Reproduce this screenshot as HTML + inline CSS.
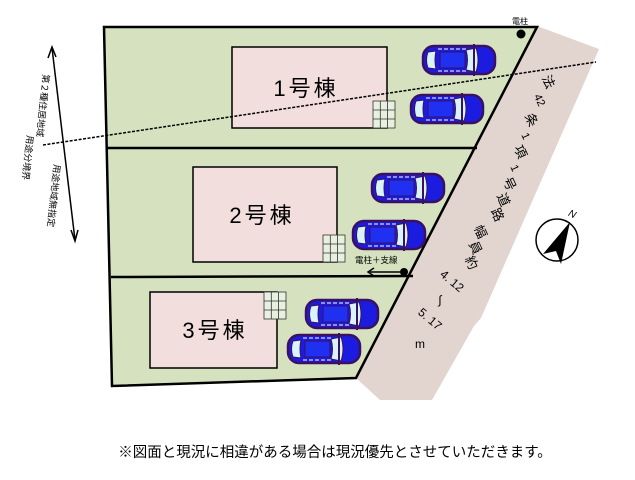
<!DOCTYPE html>
<html><head><meta charset="utf-8"><style>
body{margin:0;background:#fff}
svg{display:block}
text{font-family:"Liberation Sans","Noto Sans CJK JP",sans-serif}
</style></head><body>
<svg width="635" height="480" viewBox="0 0 635 480" xmlns="http://www.w3.org/2000/svg">
<defs>
<g id="car">
<rect x="1" y="2" width="72" height="28" rx="11" fill="#1c1ce0" stroke="#3a1060" stroke-width="2.5"/>
<path d="M6 8 Q3 16 6 24 L14 25 Q12 16 14 7 Z" fill="#d8f4f8" stroke="#3a1060" stroke-width="1"/>
<path d="M44 6 L54 4 Q58 16 54 28 L44 26 Q47 16 44 6Z" fill="#d8f4f8" stroke="#3a1060" stroke-width="1"/>
<rect x="18" y="8" width="25" height="16" fill="#2030f0" stroke="#3a1060" stroke-width="1"/>
<line x1="16" y1="5" x2="44" y2="5" stroke="#fff" stroke-width="1" stroke-dasharray="4 2"/>
<line x1="16" y1="27" x2="44" y2="27" stroke="#fff" stroke-width="1" stroke-dasharray="4 2"/>
<path d="M52 0 L52 32" stroke="#3a1060" stroke-width="2"/>
</g>
<g id="grid" stroke="#333" stroke-width="0.8" fill="#e8f0e0">
<rect x="0" y="0" width="22" height="27"/>
<line x1="7.3" y1="0" x2="7.3" y2="27"/><line x1="14.6" y1="0" x2="14.6" y2="27"/>
<line x1="0" y1="9" x2="22" y2="9"/><line x1="0" y1="18" x2="22" y2="18"/>
</g>
</defs>
<polygon points="537,26 599,49 481,318 474,326 432,400 380,400 356,378" fill="#e2d4cf"/>
<polygon points="104,27 537,27 356,378 112,386" fill="#d6e2bf" stroke="#000" stroke-width="2.5"/>
<line x1="107" y1="148" x2="477" y2="148" stroke="#000" stroke-width="2.5"/>
<line x1="111" y1="277" x2="413" y2="276" stroke="#000" stroke-width="2.5"/>
<rect x="232" y="47" width="155" height="81" fill="#f2dedc" stroke="#000" stroke-width="1.5"/>
<use href="#grid" x="373" y="101"/>
<rect x="193" y="167" width="144" height="95" fill="#f2dedc" stroke="#000" stroke-width="1.5"/>
<use href="#grid" x="323" y="235"/>
<rect x="150" y="292" width="127" height="76" fill="#f2dedc" stroke="#000" stroke-width="1.5"/>
<use href="#grid" x="264" y="292"/>
<text x="306" y="96" font-size="22" letter-spacing="3" text-anchor="middle">1号棟</text>
<text x="262" y="223" font-size="22" letter-spacing="3" text-anchor="middle">2号棟</text>
<text x="215" y="338" font-size="22" letter-spacing="3" text-anchor="middle">3号棟</text>
<use href="#car" x="422" y="44"/>
<use href="#car" x="410" y="93"/>
<use href="#car" x="371" y="172"/>
<use href="#car" x="352" y="219"/>
<use href="#car" x="305" y="298"/>
<use href="#car" x="287" y="333"/>
<circle cx="521" cy="34" r="4.5" fill="#000"/>
<text x="512" y="24" font-size="8">電柱</text>
<circle cx="404" cy="272" r="4" fill="#000"/>
<line x1="370" y1="272" x2="400" y2="272" stroke="#000" stroke-width="1.5"/>
<path d="M374 268 L368 272 L374 276" fill="none" stroke="#000" stroke-width="1.5"/>
<text x="355" y="263" font-size="8.5">電柱＋支線</text>
<line x1="43" y1="145" x2="596" y2="62" stroke="#000" stroke-width="1.5" stroke-dasharray="3 1.5"/>
<line x1="52" y1="48" x2="75" y2="240" stroke="#000" stroke-width="1.5"/>
<path d="M48 58 L52 47 L56 57" fill="none" stroke="#000" stroke-width="1.5"/>
<path d="M71 230 L75 241 L78 230" fill="none" stroke="#000" stroke-width="1.5"/>
<text font-size="9" transform="translate(43,74) rotate(96)">第２種住居地域</text>
<text font-size="9" transform="translate(54,164) rotate(96)">用途地域無指定</text>
<text font-size="9" transform="translate(27,135) rotate(96)">用途分境界</text>
<g font-size="13" text-anchor="middle">
<text x="548" y="86" transform="rotate(65 548 82)">法</text>
<text x="540" y="104" font-size="11" transform="rotate(65 540 100)">42</text>
<text x="531" y="124" transform="rotate(65 531 120)">条</text>
<text x="526" y="140" font-size="11" transform="rotate(65 526 136)">1</text>
<text x="520" y="156" transform="rotate(65 520 152)">項</text>
<text x="515" y="172" font-size="11" transform="rotate(65 515 168)">1</text>
<text x="509" y="188" transform="rotate(65 509 184)">号</text>
<text x="503" y="204" transform="rotate(65 503 200)">道</text>
<text x="497" y="219" transform="rotate(65 497 215)">路</text>
<text x="480" y="236" transform="rotate(65 480 232)">幅</text>
<text x="475" y="252" transform="rotate(65 475 248)">員</text>
<text x="471" y="267" transform="rotate(65 471 263)">約</text>
<text x="452" y="285" font-size="12" transform="rotate(40 452 281)">4. 12</text>
<text x="440" y="304" font-size="12">∫</text>
<text x="430" y="323" font-size="12" transform="rotate(40 430 319)">5. 17</text>
<text x="420" y="348" font-size="12">m</text>
</g>
<circle cx="557" cy="240" r="21" fill="none" stroke="#000" stroke-width="1.5"/>
<polygon points="570,222 543,254 556,251 561,264" fill="#000"/>
<text x="569" y="217" font-size="10" font-style="italic" transform="rotate(25 572 213)">N</text>
<text x="335" y="457" font-size="14.5" text-anchor="middle">※図面と現況に相違がある場合は現況優先とさせていただきます。</text>
</svg>
</body></html>
